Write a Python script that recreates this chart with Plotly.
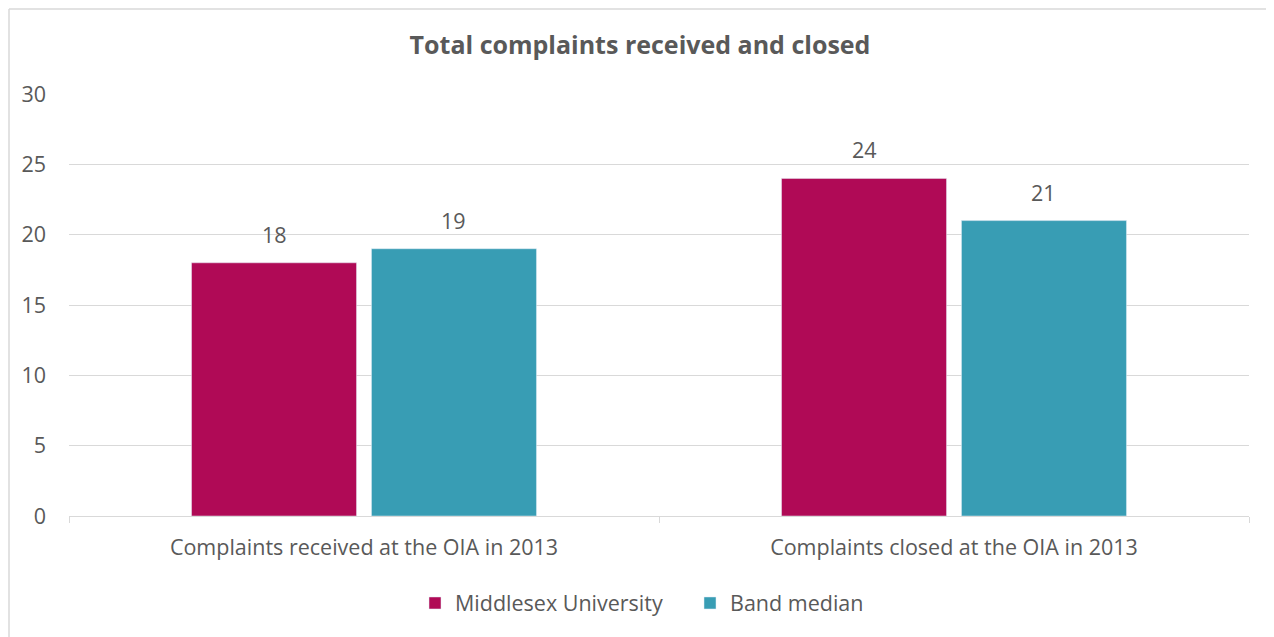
import plotly.graph_objects as go

categories = ["Complaints received at the OIA in 2013", "Complaints closed at the OIA in 2013"]
middlesex = [18, 24]
band_median = [19, 21]
y_ticks = [0, 5, 10, 15, 20, 25, 30]

series = [("Middlesex University", middlesex, "#B00A56"),
          ("Band median", band_median, "#389DB4")]

TEXT = "#595959"
GRID = "#D9D9D9"
FONT = "Open Sans"
FS = 21.5
BARGAP, GROUPGAP = 0.39, 0.083

# page has an 8px body margin; figure pixel positions are offset by that
L, R, T, B = 61, 33, 86, 129
PW, PH = 1274 - L - R, 637 - T - B

fig = go.Figure()
for name, vals, color in series:
    fig.add_trace(go.Bar(name=name, x=categories, y=vals, marker_color=color))

# data labels above bars (centred over each grouped bar)
slot_px = PW / len(categories) * (1 - BARGAP) / len(series)
for i, (name, vals, color) in enumerate(series):
    shift = (i - (len(series) - 1) / 2) * slot_px
    for cat, v in zip(categories, vals):
        fig.add_annotation(x=cat, y=v, text=str(v), showarrow=False,
                           xanchor="center", yanchor="bottom", xshift=shift, yshift=12,
                           font=dict(size=FS, color=TEXT, family=FONT))

fig.update_layout(
    width=1274, height=637,
    margin=dict(l=L, r=R, t=T, b=B),
    paper_bgcolor="white", plot_bgcolor="white",
    barmode="group", bargap=BARGAP, bargroupgap=GROUPGAP,
    font=dict(family=FONT, color=TEXT, size=FS),
    title=dict(text="<b>Total complaints received and closed</b>", x=(640 - 8 - L) / PW,
               xanchor="center", xref="paper",
               y=1 - 37/637, yanchor="middle", font=dict(size=25, color=TEXT, family=FONT)),
    showlegend=True,
    legend=dict(orientation="h", x=(690 - 8 - L) / PW, xanchor="center",
                y=-(603 - 8 - (T + PH)) / PH, yanchor="middle",
                font=dict(size=FS, color=TEXT, family=FONT), itemwidth=30,
                entrywidth=230, entrywidthmode="pixels", traceorder="normal"),
    xaxis=dict(showgrid=False, showline=True, linecolor=GRID, linewidth=1,
               ticks="outside", tickson="boundaries", ticklen=6, tickcolor=GRID,
               ticklabelstandoff=12,
               tickfont=dict(size=FS, color=TEXT, family=FONT)),
    yaxis=dict(range=[0, 30], tickvals=y_ticks, showgrid=True, gridcolor=GRID,
               gridwidth=1, zeroline=False, showline=False,
               ticks="", ticklabelstandoff=22,
               tickfont=dict(size=FS, color=TEXT, family=FONT)),
)

# chart-area border (top and left edges visible in the reference)
bx = (1 - L) / PW
by_top = (T + PH - 1) / PH
by_bot = -(700 - (T + PH)) / PH
fig.add_shape(type="line", xref="paper", yref="paper", x0=bx, x1=(1400 - L) / PW,
              y0=by_top, y1=by_top, line=dict(color=GRID, width=1.5), layer="below")
fig.add_shape(type="line", xref="paper", yref="paper", x0=bx, x1=bx,
              y0=by_top, y1=by_bot, line=dict(color=GRID, width=1.5), layer="below")

fig.write_html("out.html")
